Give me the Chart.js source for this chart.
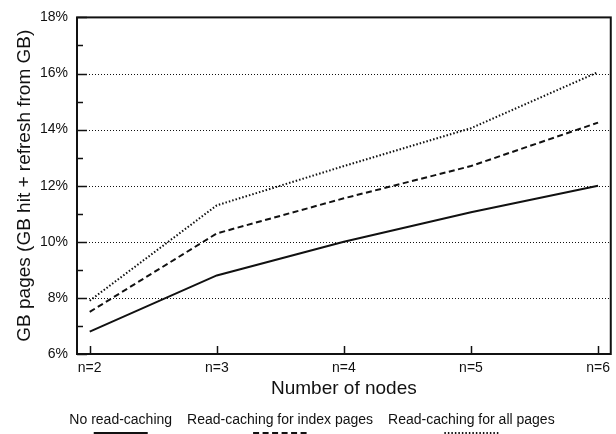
<!DOCTYPE html>
<html>
<head>
<meta charset="utf-8">
<script src="https://cdn.jsdelivr.net/npm/chart.js@4.4.1/dist/chart.umd.min.js"></script>
<style>
  html, body { margin: 0; padding: 0; background: #fff; }
  #wrap { width: 616px; height: 434px; }
</style>
</head>
<body>
<div id="wrap"><canvas id="nodesChart" width="616" height="434"></canvas></div>
<script>
// values (percent of GB pages)
const nodeCounts = [2, 3, 4, 5, 6];
const noReadCaching = [6.8, 8.8, 10.0, 11.05, 12.0];
const indexReadCaching = [7.5, 10.3, 11.55, 12.7, 14.25];
const allReadCaching = [7.9, 11.3, 12.7, 14.05, 16.05];
const seriesLabels = ["No read-caching", "Read-caching for index pages", "Read-caching for all pages"];
const yMajorTicks = [6, 8, 10, 12, 14, 16, 18];
const yMinorTicks = [7, 9, 11, 13, 15, 17];

const INK = "#111";
const FONT = "'Liberation Sans', Arial, Helvetica, sans-serif";

// grid lines, inner tick marks and the box around the plot
const framePlugin = {
  id: "frame",
  beforeDatasetsDraw(chart) {
    const { ctx, chartArea: a, scales } = chart;
    ctx.save();
    ctx.strokeStyle = INK;

    ctx.lineWidth = 1;
    ctx.setLineDash([1, 2]);
    yMajorTicks.slice(1, -1).forEach((v) => {
      const y = Math.round(scales.y.getPixelForValue(v)) + 0.5;
      ctx.beginPath();
      ctx.moveTo(a.left, y);
      ctx.lineTo(a.right, y);
      ctx.stroke();
    });

    ctx.setLineDash([]);
    ctx.lineWidth = 1.5;
    yMajorTicks.forEach((v) => {
      const y = Math.round(scales.y.getPixelForValue(v)) + 0.5;
      ctx.beginPath();
      ctx.moveTo(a.left, y);
      ctx.lineTo(a.left + 10, y);
      ctx.stroke();
    });
    yMinorTicks.forEach((v) => {
      const y = Math.round(scales.y.getPixelForValue(v)) + 0.5;
      ctx.beginPath();
      ctx.moveTo(a.left, y);
      ctx.lineTo(a.left + 6, y);
      ctx.stroke();
    });
    nodeCounts.forEach((n) => {
      const x = Math.round(scales.x.getPixelForValue(n)) + 0.5;
      ctx.beginPath();
      ctx.moveTo(x, a.bottom);
      ctx.lineTo(x, a.bottom - 8);
      ctx.stroke();
    });
    ctx.restore();
  },
  afterDatasetsDraw(chart) {
    const { ctx, chartArea: a } = chart;
    ctx.save();
    ctx.strokeStyle = INK;
    ctx.lineWidth = 2;
    ctx.strokeRect(a.left, a.top, a.right - a.left, a.bottom - a.top);
    ctx.restore();
  },
};

// legend with the line sample under each label, as in the paper figure
const underLegendPlugin = {
  id: "underLegend",
  afterDraw(chart) {
    const { ctx } = chart;
    const gap = 15;
    ctx.save();
    ctx.font = "14px " + FONT;
    ctx.fillStyle = INK;
    ctx.textBaseline = "middle";
    ctx.textAlign = "left";
    const items = chart.data.datasets.map((ds) => ({ ds, w: ctx.measureText(ds.label).width }));
    const total = items.reduce((s, it) => s + it.w, 0) + gap * (items.length - 1);
    let x = 312 - total / 2;
    items.forEach(({ ds, w }) => {
      ctx.fillText(ds.label, x, 420);
      const cx = x + w / 2;
      ctx.strokeStyle = INK;
      ctx.lineWidth = ds.borderWidth;
      ctx.setLineDash(ds.borderDash || []);
      ctx.beginPath();
      ctx.moveTo(cx - 27, 433);
      ctx.lineTo(cx + 27, 433);
      ctx.stroke();
      x += w + gap;
    });
    ctx.restore();
  },
};

function series(label, values, dash) {
  return {
    label,
    data: nodeCounts.map((n, i) => ({ x: n, y: values[i] })),
    borderColor: INK,
    borderWidth: 2,
    borderDash: dash,
    pointRadius: 0,
    tension: 0,
    fill: false,
  };
}

new Chart(document.getElementById("nodesChart"), {
  type: "line",
  data: {
    datasets: [
      series(seriesLabels[0], noReadCaching, []),
      series(seriesLabels[1], indexReadCaching, [6, 3.5]),
      series(seriesLabels[2], allReadCaching, [1.5, 2]),
    ],
  },
  options: {
    responsive: false,
    animation: false,
    layout: { padding: { top: 11, right: 3, bottom: 34, left: 0 } },
    plugins: { legend: { display: false }, tooltip: { enabled: false } },
    scales: {
      x: {
        type: "linear",
        min: 1.9,
        max: 6.1,
        afterBuildTicks: (scale) => { scale.ticks = nodeCounts.map((v) => ({ value: v })); },
        afterFit: (scale) => { scale.height = 46; },
        grid: { display: false, drawTicks: false },
        border: { display: false },
        ticks: {
          autoSkip: false,
          maxRotation: 0,
          padding: 6,
          color: INK,
          font: { family: FONT, size: 14 },
          callback: (v) => "n=" + v,
        },
        title: {
          display: true,
          text: "Number of nodes",
          color: INK,
          font: { family: FONT, size: 19 },
          padding: { top: 0, bottom: 0 },
        },
      },
      y: {
        min: 6,
        max: 18,
        afterFit: (scale) => { scale.width = 77; },
        grid: { display: false, drawTicks: false },
        border: { display: false },
        ticks: {
          stepSize: 1,
          autoSkip: false,
          padding: 9,
          color: INK,
          font: { family: FONT, size: 14 },
          callback: (v) => (v % 2 === 0 ? v + "%" : ""),
        },
        title: {
          display: true,
          text: "GB pages (GB hit + refresh from GB)",
          color: INK,
          font: { family: FONT, size: 19 },
          padding: { top: 13, bottom: 0 },
        },
      },
    },
  },
  plugins: [framePlugin, underLegendPlugin],
});
</script>
</body>
</html>
